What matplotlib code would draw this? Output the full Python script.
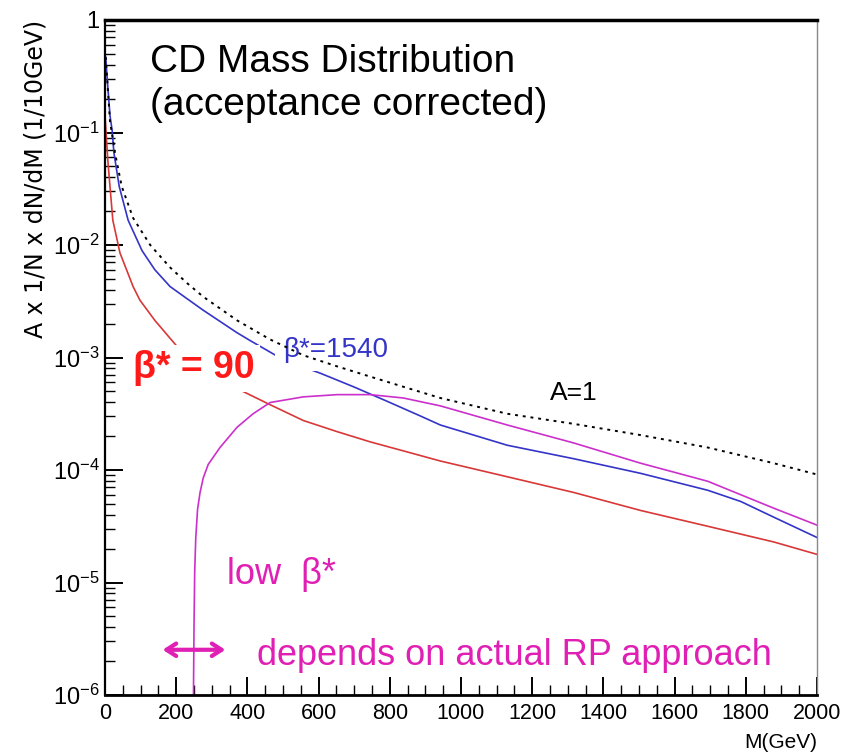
import numpy as np
import matplotlib
matplotlib.use("Agg")
import matplotlib.pyplot as plt
from matplotlib.ticker import FixedLocator, FixedFormatter, MultipleLocator, LogLocator, NullFormatter

plt.rcParams["font.family"] = ["Liberation Sans", "DejaVu Sans"]
plt.rcParams["mathtext.fontset"] = "custom"
plt.rcParams["mathtext.rm"] = "Liberation Sans"
plt.rcParams["mathtext.it"] = "Liberation Sans:italic"

# curves: M in GeV, log10 of A x 1/N x dN/dM
m_a1 = [2, 14, 28, 47, 79, 127, 183, 231, 276, 371, 464, 557, 653, 745, 838, 942,
        1130, 1317, 1505, 1693, 1879, 2000]
log_a1 = [-0.33, -0.9, -1.18, -1.48, -1.76, -2.0, -2.2, -2.34, -2.46, -2.67, -2.84, -2.98,
          -3.08, -3.17, -3.26, -3.36, -3.5, -3.59, -3.69, -3.8, -3.94, -4.04]

m_1540 = [2, 8, 14, 20, 25, 40, 65, 104, 140, 183, 276, 371, 408, 501, 605, 698, 793, 886,
          942, 1130, 1317, 1505, 1693, 1786, 1879, 2000]
log_1540 = [-0.33, -0.6, -0.85, -0.98, -1.18, -1.48, -1.78, -2.05, -2.22, -2.37, -2.58, -2.78,
            -2.85, -3.02, -3.14, -3.26, -3.39, -3.52, -3.6, -3.78, -3.9, -4.03, -4.18, -4.28,
            -4.42, -4.6]

m_90 = [0, 8, 14, 22, 42, 79, 98, 140, 183, 202, 300, 380, 464, 557, 653, 745, 838, 942,
        1130, 1317, 1505, 1693, 1879, 2000]
log_90 = [-0.85, -1.25, -1.48, -1.78, -2.07, -2.37, -2.49, -2.67, -2.83, -2.9, -3.13, -3.29,
          -3.42, -3.56, -3.66, -3.75, -3.83, -3.92, -4.06, -4.2, -4.36, -4.5, -4.64, -4.75]

m_low = [247, 248.5, 250, 252, 255, 260, 267, 276, 290, 323, 371, 416, 464, 557, 653, 745,
         838, 942, 1130, 1317, 1505, 1693, 1786, 1879, 2000]
log_low = [-7.0, -6.0, -5.4, -4.9, -4.6, -4.35, -4.2, -4.07, -3.95, -3.8, -3.62, -3.5, -3.4,
           -3.35, -3.33, -3.33, -3.36, -3.43, -3.6, -3.76, -3.94, -4.1, -4.22, -4.34, -4.49]

x_ticks = [0, 200, 400, 600, 800, 1000, 1200, 1400, 1600, 1800, 2000]
y_ticks = [1e-6, 1e-5, 1e-4, 1e-3, 1e-2, 1e-1, 1]
y_tick_labels = ["$10^{-6}$", "$10^{-5}$", "$10^{-4}$", "$10^{-3}$", "$10^{-2}$", "$10^{-1}$", "1"]

fig = plt.figure(figsize=(8.58, 7.55), dpi=100)
ax = fig.add_axes([105 / 858, 60 / 755, 712 / 858, 675 / 755])

ax.plot(m_90, np.power(10.0, log_90), color="#d83838", lw=1.2, zorder=2)
ax.plot(m_1540, np.power(10.0, log_1540), color="#3434c8", lw=1.2, zorder=2)
ax.plot(m_low, np.power(10.0, log_low), color="#cc30cc", lw=1.2, zorder=2)
ax.plot(m_a1, np.power(10.0, log_a1), color="black", lw=1.4, ls=(0, (1.5, 2.5)), zorder=4)

ax.set_yscale("log")
ax.set_xlim(0, 2000)
ax.set_ylim(1e-6, 1)

ax.xaxis.set_major_locator(FixedLocator(x_ticks))
ax.xaxis.set_minor_locator(MultipleLocator(50))
ax.yaxis.set_major_locator(FixedLocator(y_ticks))
ax.yaxis.set_major_formatter(FixedFormatter(y_tick_labels))
ax.yaxis.set_minor_locator(LogLocator(base=10, subs=np.arange(2, 10)))
ax.yaxis.set_minor_formatter(NullFormatter())

ax.tick_params(which="major", direction="in", length=13, width=1.4,
               top=False, right=False)
ax.tick_params(which="minor", direction="in", length=7, width=1.0, top=False, right=False)
ax.tick_params(axis="x", pad=6, labelsize=15.5)
ax.tick_params(axis="y", pad=4, labelsize=17)

ax.spines["bottom"].set_linewidth(2)
ax.spines["left"].set_linewidth(1.6)
ax.spines["top"].set_linewidth(2.5)
ax.spines["right"].set_linewidth(1)
ax.spines["right"].set_color("#888888")

fig.text(36 / 858, 1 - 20 / 755, "A x 1/N x dN/dM (1/10GeV)", rotation=90,
         ha="center", va="top", fontsize=17, family=["DejaVu Sans"])
fig.text(817 / 858, 1 - 742 / 755, "M(GeV)", ha="right", va="center", fontsize=15)

ax.text(0.063, 0.938, "CD Mass Distribution", transform=ax.transAxes,
        fontsize=28, va="center", ha="left")
ax.text(0.063, 0.874, "(acceptance corrected)", transform=ax.transAxes,
        fontsize=28, va="center", ha="left")

ax.text(0.25, 0.511, "β*=1540", transform=ax.transAxes, fontsize=20, color="#3434c8",
        va="center", ha="left", zorder=3,
        bbox=dict(boxstyle="square,pad=0.3", fc="white", ec="none"))
ax.text(0.625, 0.447, "A=1", transform=ax.transAxes, fontsize=19, color="black",
        va="center", ha="left")
ax.text(0.039, 0.484, "β* = 90", transform=ax.transAxes, fontsize=27, color="#ff1a1a",
        fontweight="bold", va="center", ha="left", zorder=3,
        bbox=dict(boxstyle="square,pad=0.15", fc="white", ec="none"))
ax.text(0.171, 0.178, "low  β*", transform=ax.transAxes, fontsize=26, color="#e020b4",
        va="center", ha="left")
ax.text(0.213, 0.059, "depends on actual RP approach", transform=ax.transAxes,
        fontsize=26, color="#e020b4", va="center", ha="left")
ax.annotate("", xy=(0.077, 0.067), xytext=(0.173, 0.067), xycoords="axes fraction",
            arrowprops=dict(arrowstyle="<->,head_length=0.7,head_width=0.45",
                            color="#e020b4", lw=3))

fig.savefig("out.png", dpi=100)
